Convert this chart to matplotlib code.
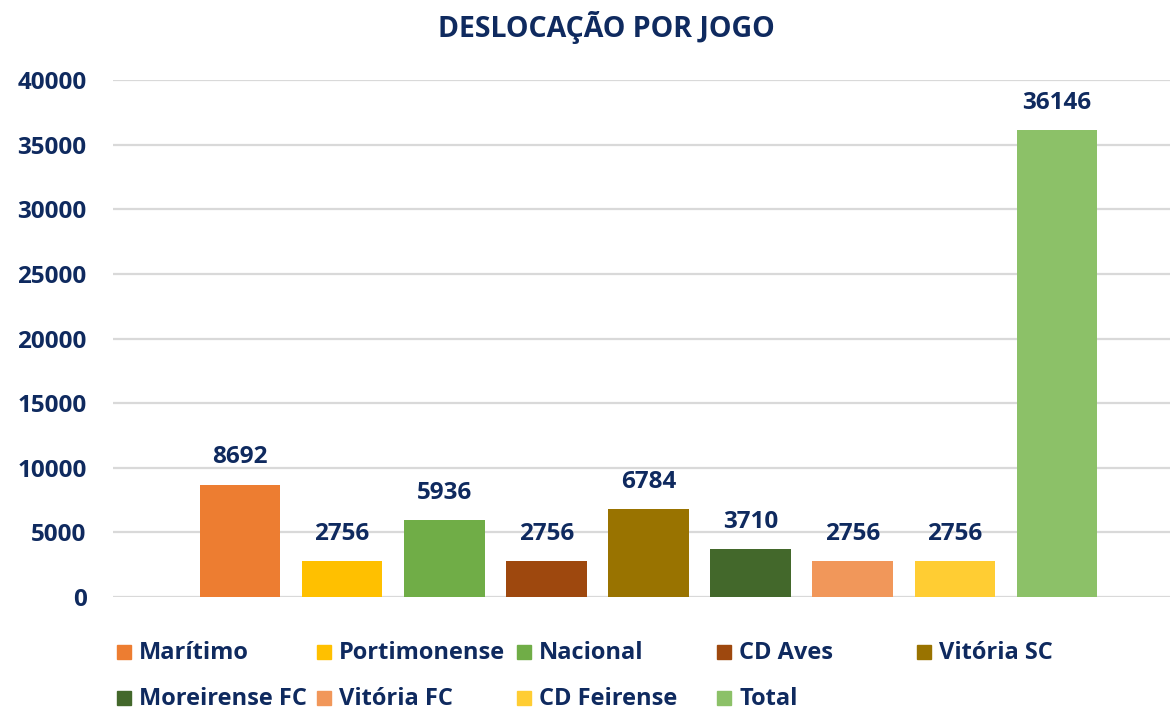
import matplotlib.pyplot as plt
from matplotlib.patches import Rectangle

teams = ['Marítimo', 'Portimonense', 'Nacional', 'CD Aves', 'Vitória SC',
         'Moreirense FC', 'Vitória FC', 'CD Feirense', 'Total']
values = [8692, 2756, 5936, 2756, 6784, 3710, 2756, 2756, 36146]
colors = ['#ED7D31', '#FFC000', '#70AD47', '#9E480E', '#997300',
          '#43682B', '#F1975A', '#FFCD33', '#8CC168']
yticks = [0, 5000, 10000, 15000, 20000, 25000, 30000, 35000, 40000]

navy = '#0F2A5F'
plt.rcParams['font.family'] = ['Open Sans', 'DejaVu Sans']
plt.rcParams['font.weight'] = 'bold'
fs = 17.5

W, H = 1171, 713
fig = plt.figure(figsize=(W / 100, H / 100), dpi=100)
ax = fig.add_axes([113 / W, 1 - 597 / H, (1170 - 113) / W, (597 - 80) / H])

pos = list(range(1, len(teams) + 1))
ax.bar(pos, values, width=0.79, color=colors, zorder=3)
for x, v in zip(pos, values):
    ax.annotate(str(v), (x, v), xytext=(0, 11), textcoords='offset points',
                ha='center', va='bottom', fontsize=fs, fontweight='bold', color=navy)

ax.set_xlim(1 - 127 / 102.1, 9 + 113 / 102.1)
ax.set_ylim(0, 40000)
ax.set_yticks(yticks)
ax.set_yticklabels([str(t) for t in yticks], fontsize=fs, fontweight='bold', color=navy)
ax.set_xticks([])
ax.tick_params(axis='y', length=0, pad=19)
ax.grid(axis='y', color='#D9D9D9', linewidth=1.6, zorder=0)
ax.set_axisbelow(True)
for s in ax.spines.values():
    s.set_visible(False)

fig.text(606 / W, 1 - 27 / H, 'DESLOCAÇÃO POR JOGO', ha='center', va='center',
         fontsize=20.5, fontweight='bold', color=navy)

# legend drawn by hand in fixed columns like the original
col_x = [117, 317, 517, 717, 917]
row_y = [652, 698]
for i, (name, c) in enumerate(zip(teams, colors)):
    x0 = col_x[i % 5]
    y0 = row_y[i // 5]
    fig.patches.append(Rectangle((x0 / W, 1 - (y0 + 7) / H), 14 / W, 14 / H,
                                 transform=fig.transFigure, color=c))
    fig.text((x0 + 22) / W, 1 - (y0 + 1) / H, name, ha='left', va='center',
             fontsize=17, fontweight='bold', color=navy)

fig.savefig('out.png', dpi=100)
